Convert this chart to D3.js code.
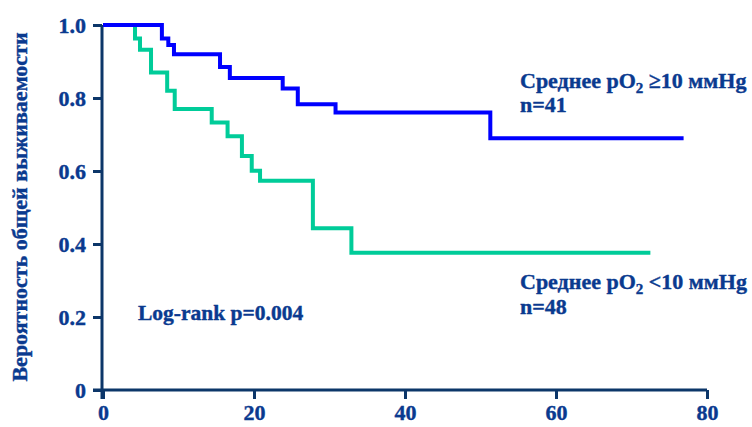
<!DOCTYPE html>
<html>
<head>
<meta charset="utf-8">
<script src="https://cdn.jsdelivr.net/npm/d3@7"></script>
<style>
  body { margin: 0; background: #fff; }
  text { font-family: "Liberation Serif", "Times New Roman", serif; font-weight: bold; }
</style>
</head>
<body>
<div id="chart"></div>
<script>
// Daten
const highTimes = [0, 7.8, 8.65, 9.4, 15.5, 16.8, 23.8, 25.8, 30.8, 51.3, 76.9];
const highSurv  = [1, 0.963, 0.945, 0.92, 0.885, 0.855, 0.826, 0.783, 0.76, 0.69, 0.69];
const lowTimes  = [0, 4.24, 4.9, 6.36, 8.5, 9.5, 14.4, 16.5, 18.4, 19.7, 20.8, 27.8, 32.9, 72.5];
const lowSurv   = [1, 0.963, 0.932, 0.87, 0.82, 0.77, 0.733, 0.695, 0.641, 0.601, 0.573, 0.443, 0.376, 0.376];
const xTicks = [0, 20, 40, 60, 80];
const yTicks = [0, 0.2, 0.4, 0.6, 0.8, 1.0];

const W = 752, H = 427;
const axisColor = "#0c3669";
const textColor = "#0a3a8f";

const svg = d3.select("#chart").append("svg")
    .attr("width", W).attr("height", H);

const x = d3.scaleLinear().domain([0, 80]).range([103, 707]);
const y = d3.scaleLinear().domain([0, 1]).range([390, 25]);

// Achsen
const xAxis = svg.append("g")
    .attr("transform", "translate(0,390)")
    .call(d3.axisBottom(x).tickValues(xTicks).tickSize(9).tickSizeOuter(0).tickPadding(5).tickFormat(d3.format("d")));
const yAxis = svg.append("g")
    .attr("transform", "translate(102,0)")
    .call(d3.axisLeft(y).tickValues(yTicks).tickSize(9).tickSizeOuter(0).tickPadding(7)
        .tickFormat(d => d === 0 ? "0" : d3.format(".1f")(d)));

[xAxis, yAxis].forEach(g => {
    g.select(".domain").attr("stroke", axisColor).attr("stroke-width", 3);
    g.selectAll(".tick line").attr("stroke", axisColor).attr("stroke-width", 3);
    g.selectAll(".tick text").attr("fill", textColor).style("font-size", "22px")
        .attr("stroke", textColor).attr("stroke-width", 0.4)
        .style("font-family", "'Liberation Serif', serif").style("font-weight", "bold");
});
// x-Achse nach links verlängern
xAxis.select(".domain").attr("d", `M93,0H${x(80)}`);
yAxis.select(".domain").attr("d", `M0,${y(1)}V399`);

// Kurven
const line = d3.line()
    .x(d => x(d[0]))
    .y(d => y(d[1]))
    .curve(d3.curveStepAfter);

svg.append("path")
    .datum(lowTimes.map((t, i) => [t, lowSurv[i]]))
    .attr("d", line)
    .attr("fill", "none")
    .attr("stroke", "#00cc99")
    .attr("stroke-width", 4);

svg.append("path")
    .datum(highTimes.map((t, i) => [t, highSurv[i]]))
    .attr("d", line)
    .attr("fill", "none")
    .attr("stroke", "#0000ff")
    .attr("stroke-width", 4);

// Beschriftungen
function label(tx, ty, parts, size) {
    const t = svg.append("text").attr("x", tx).attr("y", ty)
        .attr("fill", textColor).attr("stroke", textColor).attr("stroke-width", 0.4)
        .style("font-size", size + "px");
    parts.forEach(p => {
        const s = t.append("tspan").text(p.text);
        if (p.sub) s.attr("dy", 5).style("font-size", "15px");
        if (p.back) s.attr("dy", -5);
    });
    return t;
}
label(520, 88, [{text: "Среднее pO"}, {text: "2", sub: true}, {text: " ≥10 ммHg", back: true}], 22);
label(520, 112, [{text: "n=41"}], 22);
label(520, 289, [{text: "Среднее pO"}, {text: "2", sub: true}, {text: " <10 ммHg", back: true}], 22);
label(520, 314, [{text: "n=48"}], 22);
label(138, 320, [{text: "Log-rank p=0.004"}], 21.5);

svg.append("text")
    .attr("transform", "translate(27,207) rotate(-90)")
    .attr("text-anchor", "middle")
    .attr("fill", textColor).attr("stroke", textColor).attr("stroke-width", 0.4)
    .style("font-size", "22px")
    .text("Вероятность общей выживаемости");
</script>
</body>
</html>
